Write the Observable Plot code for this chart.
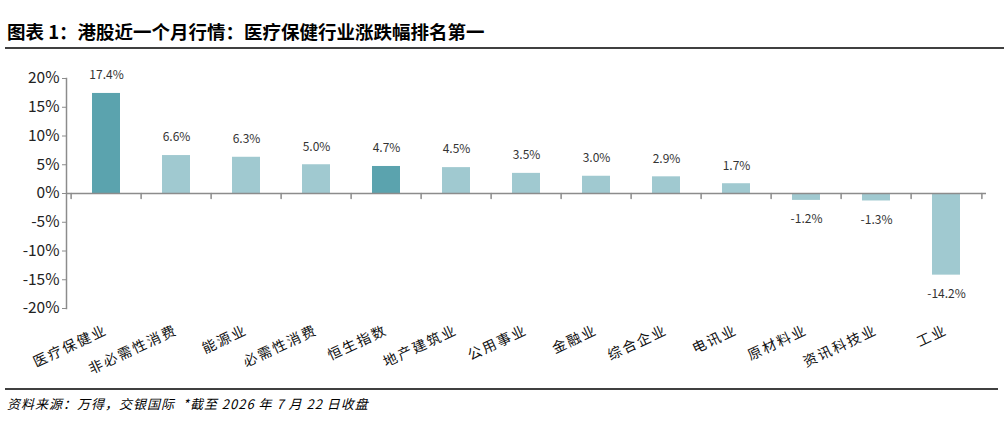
<!DOCTYPE html>
<html><head><meta charset="utf-8">
<script src="https://cdn.jsdelivr.net/npm/d3@7"></script>
<script src="https://cdn.jsdelivr.net/npm/@observablehq/plot@0.6"></script>
<style>
body{margin:0;background:#fff;width:1004px;height:423px;position:relative;overflow:hidden;font-family:"Noto Sans CJK SC",sans-serif}
#title{position:absolute;left:7px;top:19px;font-size:18.5px;font-weight:bold;line-height:24px;color:#000;white-space:nowrap}
#rule1{position:absolute;left:5px;right:0;top:47px;height:2px;background:#404040}
#chart{position:absolute;left:0;top:50px}
#rule2{position:absolute;left:5px;right:6px;top:388px;height:2px;background:#404040}
#foot{position:absolute;left:7px;top:395px;font-size:13px;letter-spacing:1px;font-style:italic;color:#000;line-height:18px;white-space:pre}
g[aria-label="x-axis tick label"] text{letter-spacing:2px}
</style></head>
<body>
<div id="title">图表 1：港股近一个月行情：医疗保健行业涨跌幅排名第一</div>
<div id="rule1"></div>
<div id="chart"></div>
<div id="rule2"></div>
<div id="foot">资料来源：万得，交银国际  *截至 2026 年 7 月 22 日收盘</div>
<script>
const categories = ["医疗保健业","非必需性消费","能源业","必需性消费","恒生指数","地产建筑业","公用事业","金融业","综合企业","电讯业","原材料业","资讯科技业","工业"];
const values = [17.4, 6.6, 6.3, 5.0, 4.7, 4.5, 3.5, 3.0, 2.9, 1.7, -1.2, -1.3, -14.2];
const highlighted = ["医疗保健业","恒生指数"];
const yTicks = [-20, -15, -10, -5, 0, 5, 10, 15, 20];

const W = 1004, H = 338, ML = 66, MR = 18, MT = 28, MB = 80;
const DARK = "#5ba3ae", LIGHT = "#a0c9d0", AXIS = "#8c8c8c";
const step = (W - ML - MR) / categories.length;
const data = categories.map((c, i) => ({cat: c, value: values[i]}));
const tickShape = {draw(ctx, l) { ctx.moveTo(0, 0); ctx.lineTo(0, -l); }};

const plot = Plot.plot({
  width: W, height: H,
  marginLeft: ML, marginRight: MR, marginTop: MT, marginBottom: MB,
  style: {fontFamily: '"Noto Sans CJK SC", sans-serif', background: "#fff"},
  x: {domain: categories, paddingInner: 0.6, paddingOuter: 0.3},
  y: {domain: [-20, 20]},
  marks: [
    Plot.barY(data, {x: "cat", y: "value", fill: d => highlighted.includes(d.cat) ? DARK : LIGHT}),
    Plot.ruleY([0], {stroke: AXIS, strokeWidth: 1.5}),
    Plot.frame({anchor: "left", stroke: AXIS, strokeWidth: 1.5}),
    Plot.vector(categories, {x: d => d, y: 0, length: 5, rotate: 180, anchor: "start", shape: tickShape, dx: -step / 2, stroke: AXIS, strokeWidth: 1.5}),
    Plot.vector(categories.slice(-1), {x: d => d, y: 0, length: 5, rotate: 180, anchor: "start", shape: tickShape, dx: step / 2, stroke: AXIS, strokeWidth: 1.5}),
    Plot.text(data.filter(d => d.value >= 0), {x: "cat", y: "value", text: d => d.value.toFixed(1) + "%", dy: -18, fontSize: 12, fill: "#333"}),
    Plot.text(data.filter(d => d.value < 0), {x: "cat", y: "value", text: d => d.value.toFixed(1) + "%", dy: 19, fontSize: 12, fill: "#333"}),
    Plot.axisY({ticks: yTicks, tickFormat: d => d + "%", tickSize: 4, tickPadding: 3, fontSize: 15.5, stroke: AXIS, fill: "#222", label: null}),
    Plot.axisX({tickSize: 0, tickRotate: -25, tickPadding: 21, fontSize: 14, fill: "#111", label: null})
  ]
});
document.getElementById("chart").appendChild(plot);
</script>
</body></html>
